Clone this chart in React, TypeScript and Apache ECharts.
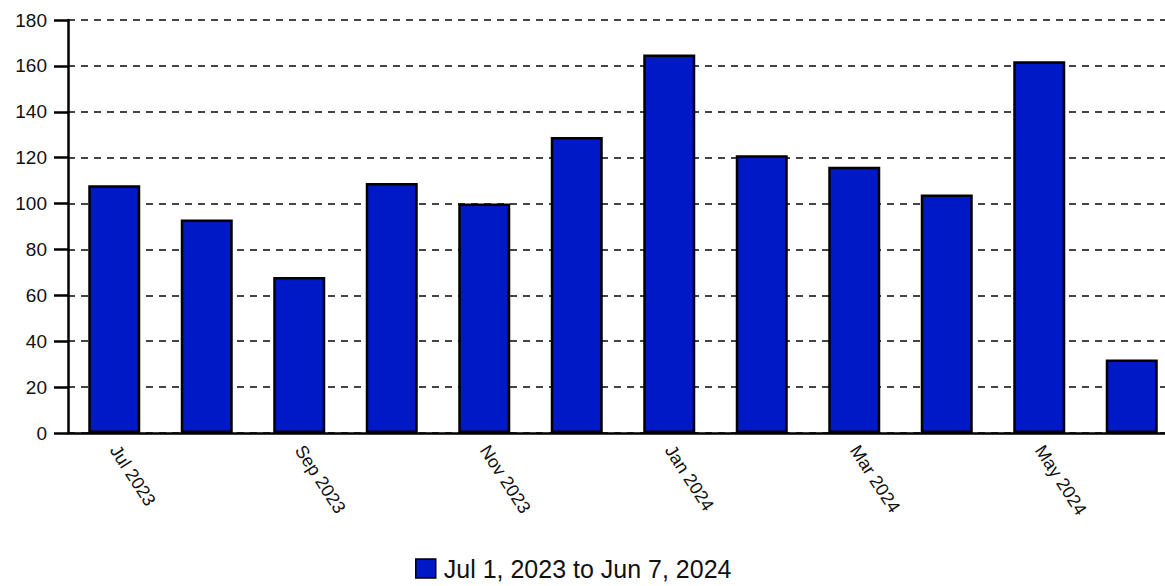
import React, { useEffect, useRef } from "react";
import * as echarts from "echarts";

const months = ["Jul 2023", "Aug 2023", "Sep 2023", "Oct 2023", "Nov 2023", "Dec 2023", "Jan 2024", "Feb 2024", "Mar 2024", "Apr 2024", "May 2024", "Jun 2024"];
const counts = [108, 93, 68, 109, 100, 129, 165, 121, 116, 104, 162, 32];
const seriesName = "Jul 1, 2023 to Jun 7, 2024";

export default function App() {
  const ref = useRef<HTMLDivElement>(null);
  useEffect(() => {
    if (!ref.current) return;
    const chart = echarts.init(ref.current, null, { renderer: "svg" });
    const font = "Arial, 'Liberation Sans', sans-serif";
    chart.setOption({
      animation: false,
      backgroundColor: "#ffffff",
      grid: { left: 68, top: 20, right: 0, bottom: 153, containLabel: false },
      legend: {
        data: [seriesName],
        top: 551,
        left: 410,
        icon: "rect",
        itemWidth: 20,
        itemHeight: 19,
        itemGap: 10,
        textStyle: { fontFamily: font, fontSize: 25, color: "#111", padding: [0, 0, 0, 3] },
        itemStyle: { borderColor: "#000", borderWidth: 1.5 },
      },
      xAxis: {
        type: "category",
        data: months,
        boundaryGap: true,
        axisLine: { lineStyle: { color: "#000", width: 2.5 } },
        axisTick: { alignWithLabel: true, interval: 0, length: 12, lineStyle: { color: "#000", width: 2.5 } },
        axisLabel: {
          interval: 1,
          rotate: -57,
          margin: 14,
          fontFamily: font,
          fontSize: 18,
          color: "#111",
        },
      },
      yAxis: {
        type: "value",
        min: 0,
        max: 180,
        interval: 20,
        axisLine: { show: true, lineStyle: { color: "#000", width: 2.5 } },
        axisTick: { show: true, length: 14, lineStyle: { color: "#000", width: 2.5 } },
        axisLabel: { fontFamily: font, fontSize: 19, color: "#111", margin: 21 },
        splitLine: { show: true, lineStyle: { color: "#444", width: 2, type: [7, 6] } },
      },
      series: [
        {
          name: seriesName,
          type: "bar",
          data: counts,
          barWidth: 52,
          itemStyle: { color: "#0019c6", borderColor: "#000", borderWidth: 2.5 },
        },
      ],
    });
    return () => chart.dispose();
  }, []);
  return (
    <div style={{ position: "fixed", left: 0, top: 0, width: 1165, height: 586, overflow: "hidden", background: "#fff" }}>
      <div ref={ref} style={{ width: 1178, height: 586 }} />
    </div>
  );
}
